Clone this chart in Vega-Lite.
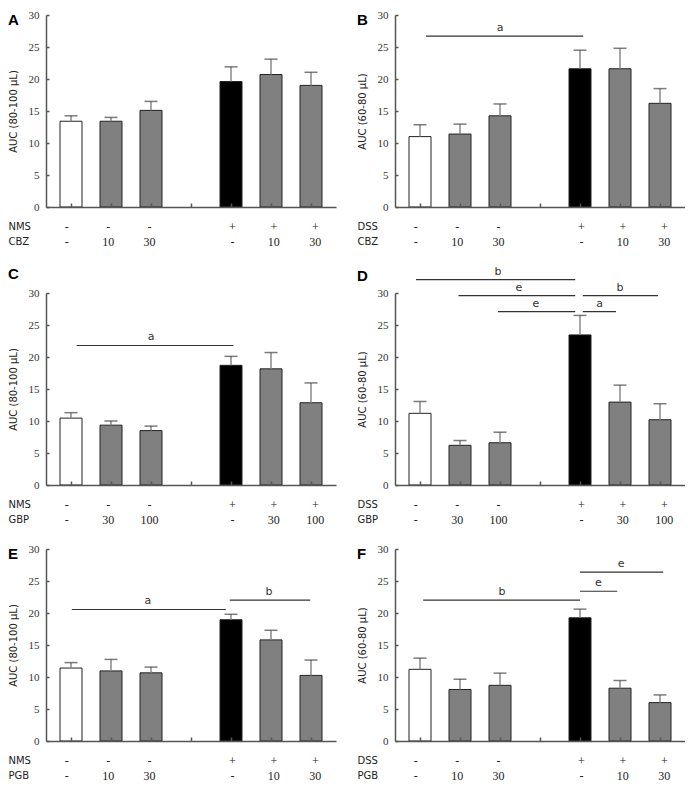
{
  "$schema": "https://vega.github.io/schema/vega-lite/v6.json",
  "padding": {"left": 8, "top": 9, "right": 0, "bottom": 0},
  "datasets": {
    "bars": [
      {"p": "A", "slot": 1, "kind": "vehicle", "v": 13.4, "hi": 14.25},
      {"p": "A", "slot": 2, "kind": "drug", "v": 13.4, "hi": 14.0},
      {"p": "A", "slot": 3, "kind": "drug", "v": 15.1, "hi": 16.5},
      {"p": "A", "slot": 5, "kind": "model", "v": 19.6, "hi": 21.9},
      {"p": "A", "slot": 6, "kind": "drug", "v": 20.7, "hi": 23.1},
      {"p": "A", "slot": 7, "kind": "drug", "v": 19.0, "hi": 21.05},
      {"p": "B", "slot": 1, "kind": "vehicle", "v": 11.0, "hi": 12.85},
      {"p": "B", "slot": 2, "kind": "drug", "v": 11.4, "hi": 12.95},
      {"p": "B", "slot": 3, "kind": "drug", "v": 14.25, "hi": 16.1},
      {"p": "B", "slot": 5, "kind": "model", "v": 21.6, "hi": 24.5},
      {"p": "B", "slot": 6, "kind": "drug", "v": 21.6, "hi": 24.8},
      {"p": "B", "slot": 7, "kind": "drug", "v": 16.2, "hi": 18.5},
      {"p": "C", "slot": 1, "kind": "vehicle", "v": 10.45, "hi": 11.3},
      {"p": "C", "slot": 2, "kind": "drug", "v": 9.35, "hi": 10.0},
      {"p": "C", "slot": 3, "kind": "drug", "v": 8.5, "hi": 9.2},
      {"p": "C", "slot": 5, "kind": "model", "v": 18.7, "hi": 20.1},
      {"p": "C", "slot": 6, "kind": "drug", "v": 18.15, "hi": 20.7},
      {"p": "C", "slot": 7, "kind": "drug", "v": 12.85, "hi": 15.95},
      {"p": "D", "slot": 1, "kind": "vehicle", "v": 11.2, "hi": 13.05},
      {"p": "D", "slot": 2, "kind": "drug", "v": 6.2, "hi": 6.95},
      {"p": "D", "slot": 3, "kind": "drug", "v": 6.6, "hi": 8.25},
      {"p": "D", "slot": 5, "kind": "model", "v": 23.45, "hi": 26.5},
      {"p": "D", "slot": 6, "kind": "drug", "v": 12.95, "hi": 15.6},
      {"p": "D", "slot": 7, "kind": "drug", "v": 10.2, "hi": 12.7},
      {"p": "E", "slot": 1, "kind": "vehicle", "v": 11.4, "hi": 12.25},
      {"p": "E", "slot": 2, "kind": "drug", "v": 10.95, "hi": 12.75},
      {"p": "E", "slot": 3, "kind": "drug", "v": 10.65, "hi": 11.55},
      {"p": "E", "slot": 5, "kind": "model", "v": 18.95, "hi": 19.8},
      {"p": "E", "slot": 6, "kind": "drug", "v": 15.8, "hi": 17.3},
      {"p": "E", "slot": 7, "kind": "drug", "v": 10.25, "hi": 12.65},
      {"p": "F", "slot": 1, "kind": "vehicle", "v": 11.2, "hi": 12.95},
      {"p": "F", "slot": 2, "kind": "drug", "v": 8.05, "hi": 9.65},
      {"p": "F", "slot": 3, "kind": "drug", "v": 8.7, "hi": 10.6},
      {"p": "F", "slot": 5, "kind": "model", "v": 19.25, "hi": 20.6},
      {"p": "F", "slot": 6, "kind": "drug", "v": 8.25, "hi": 9.45},
      {"p": "F", "slot": 7, "kind": "drug", "v": 6.0, "hi": 7.2}
    ],
    "sig": [
      {"p": "B", "x1": 1.15, "x2": 5.08, "mid": 3.0, "y": 26.7, "lab": "a"},
      {"p": "C", "x1": 1.14, "x2": 5.06, "mid": 3.0, "y": 21.8, "lab": "a"},
      {"p": "D", "x1": 0.9, "x2": 4.88, "mid": 2.95, "y": 32.1, "lab": "b"},
      {"p": "D", "x1": 1.96, "x2": 4.88, "mid": 3.47, "y": 29.6, "lab": "e"},
      {"p": "D", "x1": 2.95, "x2": 4.88, "mid": 3.9, "y": 27.1, "lab": "e"},
      {"p": "D", "x1": 5.07, "x2": 6.95, "mid": 6.0, "y": 29.6, "lab": "b"},
      {"p": "D", "x1": 5.07, "x2": 5.9, "mid": 5.49, "y": 27.1, "lab": "a"},
      {"p": "E", "x1": 1.02, "x2": 4.87, "mid": 2.92, "y": 20.55, "lab": "a"},
      {"p": "E", "x1": 4.97, "x2": 6.98, "mid": 5.95, "y": 22.0, "lab": "b"},
      {"p": "F", "x1": 1.08, "x2": 5.0, "mid": 3.05, "y": 22.0, "lab": "b"},
      {"p": "F", "x1": 5.0, "x2": 5.93, "mid": 5.46, "y": 23.4, "lab": "e"},
      {"p": "F", "x1": 5.0, "x2": 7.08, "mid": 6.03, "y": 26.4, "lab": "e"}
    ],
    "tab": [
      {"p": "A", "r": 1, "row": "NMS", "slot": 1, "t": "-"},
      {"p": "A", "r": 1, "row": "NMS", "slot": 2, "t": "-"},
      {"p": "A", "r": 1, "row": "NMS", "slot": 3, "t": "-"},
      {"p": "A", "r": 1, "row": "NMS", "slot": 5, "t": "+"},
      {"p": "A", "r": 1, "row": "NMS", "slot": 6, "t": "+"},
      {"p": "A", "r": 1, "row": "NMS", "slot": 7, "t": "+"},
      {"p": "A", "r": 2, "row": "CBZ", "slot": 1, "t": "-"},
      {"p": "A", "r": 2, "row": "CBZ", "slot": 2, "t": "10"},
      {"p": "A", "r": 2, "row": "CBZ", "slot": 3, "t": "30"},
      {"p": "A", "r": 2, "row": "CBZ", "slot": 5, "t": "-"},
      {"p": "A", "r": 2, "row": "CBZ", "slot": 6, "t": "10"},
      {"p": "A", "r": 2, "row": "CBZ", "slot": 7, "t": "30"},
      {"p": "B", "r": 1, "row": "DSS", "slot": 1, "t": "-"},
      {"p": "B", "r": 1, "row": "DSS", "slot": 2, "t": "-"},
      {"p": "B", "r": 1, "row": "DSS", "slot": 3, "t": "-"},
      {"p": "B", "r": 1, "row": "DSS", "slot": 5, "t": "+"},
      {"p": "B", "r": 1, "row": "DSS", "slot": 6, "t": "+"},
      {"p": "B", "r": 1, "row": "DSS", "slot": 7, "t": "+"},
      {"p": "B", "r": 2, "row": "CBZ", "slot": 1, "t": "-"},
      {"p": "B", "r": 2, "row": "CBZ", "slot": 2, "t": "10"},
      {"p": "B", "r": 2, "row": "CBZ", "slot": 3, "t": "30"},
      {"p": "B", "r": 2, "row": "CBZ", "slot": 5, "t": "-"},
      {"p": "B", "r": 2, "row": "CBZ", "slot": 6, "t": "10"},
      {"p": "B", "r": 2, "row": "CBZ", "slot": 7, "t": "30"},
      {"p": "C", "r": 1, "row": "NMS", "slot": 1, "t": "-"},
      {"p": "C", "r": 1, "row": "NMS", "slot": 2, "t": "-"},
      {"p": "C", "r": 1, "row": "NMS", "slot": 3, "t": "-"},
      {"p": "C", "r": 1, "row": "NMS", "slot": 5, "t": "+"},
      {"p": "C", "r": 1, "row": "NMS", "slot": 6, "t": "+"},
      {"p": "C", "r": 1, "row": "NMS", "slot": 7, "t": "+"},
      {"p": "C", "r": 2, "row": "GBP", "slot": 1, "t": "-"},
      {"p": "C", "r": 2, "row": "GBP", "slot": 2, "t": "30"},
      {"p": "C", "r": 2, "row": "GBP", "slot": 3, "t": "100"},
      {"p": "C", "r": 2, "row": "GBP", "slot": 5, "t": "-"},
      {"p": "C", "r": 2, "row": "GBP", "slot": 6, "t": "30"},
      {"p": "C", "r": 2, "row": "GBP", "slot": 7, "t": "100"},
      {"p": "D", "r": 1, "row": "DSS", "slot": 1, "t": "-"},
      {"p": "D", "r": 1, "row": "DSS", "slot": 2, "t": "-"},
      {"p": "D", "r": 1, "row": "DSS", "slot": 3, "t": "-"},
      {"p": "D", "r": 1, "row": "DSS", "slot": 5, "t": "+"},
      {"p": "D", "r": 1, "row": "DSS", "slot": 6, "t": "+"},
      {"p": "D", "r": 1, "row": "DSS", "slot": 7, "t": "+"},
      {"p": "D", "r": 2, "row": "GBP", "slot": 1, "t": "-"},
      {"p": "D", "r": 2, "row": "GBP", "slot": 2, "t": "30"},
      {"p": "D", "r": 2, "row": "GBP", "slot": 3, "t": "100"},
      {"p": "D", "r": 2, "row": "GBP", "slot": 5, "t": "-"},
      {"p": "D", "r": 2, "row": "GBP", "slot": 6, "t": "30"},
      {"p": "D", "r": 2, "row": "GBP", "slot": 7, "t": "100"},
      {"p": "E", "r": 1, "row": "NMS", "slot": 1, "t": "-"},
      {"p": "E", "r": 1, "row": "NMS", "slot": 2, "t": "-"},
      {"p": "E", "r": 1, "row": "NMS", "slot": 3, "t": "-"},
      {"p": "E", "r": 1, "row": "NMS", "slot": 5, "t": "+"},
      {"p": "E", "r": 1, "row": "NMS", "slot": 6, "t": "+"},
      {"p": "E", "r": 1, "row": "NMS", "slot": 7, "t": "+"},
      {"p": "E", "r": 2, "row": "PGB", "slot": 1, "t": "-"},
      {"p": "E", "r": 2, "row": "PGB", "slot": 2, "t": "10"},
      {"p": "E", "r": 2, "row": "PGB", "slot": 3, "t": "30"},
      {"p": "E", "r": 2, "row": "PGB", "slot": 5, "t": "-"},
      {"p": "E", "r": 2, "row": "PGB", "slot": 6, "t": "10"},
      {"p": "E", "r": 2, "row": "PGB", "slot": 7, "t": "30"},
      {"p": "F", "r": 1, "row": "DSS", "slot": 1, "t": "-"},
      {"p": "F", "r": 1, "row": "DSS", "slot": 2, "t": "-"},
      {"p": "F", "r": 1, "row": "DSS", "slot": 3, "t": "-"},
      {"p": "F", "r": 1, "row": "DSS", "slot": 5, "t": "+"},
      {"p": "F", "r": 1, "row": "DSS", "slot": 6, "t": "+"},
      {"p": "F", "r": 1, "row": "DSS", "slot": 7, "t": "+"},
      {"p": "F", "r": 2, "row": "PGB", "slot": 1, "t": "-"},
      {"p": "F", "r": 2, "row": "PGB", "slot": 2, "t": "10"},
      {"p": "F", "r": 2, "row": "PGB", "slot": 3, "t": "30"},
      {"p": "F", "r": 2, "row": "PGB", "slot": 5, "t": "-"},
      {"p": "F", "r": 2, "row": "PGB", "slot": 6, "t": "10"},
      {"p": "F", "r": 2, "row": "PGB", "slot": 7, "t": "30"}
    ]
  },
  "spacing": 16,
  "align": "none",
  "vconcat": [
    {"hconcat": [
      {"spacing": 7, "vconcat": [
        {"width": 290, "height": 192,
         "title": {"text": "A", "offset": -19},
         "layer": [
          {"data": {"name": "bars"}, "transform": [{"filter": "datum.p === 'A'"}],
           "mark": {"type": "bar", "width": 22, "stroke": "#222", "strokeWidth": 1},
           "encoding": {
             "x": {"field": "slot", "type": "quantitative", "scale": {"domain": [0.5, 7.5], "nice": false, "zero": false}, "axis": {"values": [1, 2, 3, 4, 5, 6, 7], "labels": false, "tickSize": -4, "title": null, "zindex": 1}},
             "y": {"field": "v", "type": "quantitative", "scale": {"domain": [0, 30], "nice": false}, "axis": {"values": [0, 5, 10, 15, 20, 25, 30], "tickCount": 7, "labelOverlap": false, "labelBound": false, "title": "AUC (80-100 μL)"}},
             "fill": {"field": "kind", "type": "nominal", "scale": {"domain": ["vehicle", "drug", "model"], "range": ["#ffffff", "#808080", "#000000"]}, "legend": null}}},
          {"data": {"name": "bars"}, "transform": [{"filter": "datum.p === 'A'"}],
           "mark": {"type": "rule", "color": "#888", "strokeWidth": 1.5},
           "encoding": {"x": {"field": "slot", "type": "quantitative"}, "y": {"field": "v", "type": "quantitative"}, "y2": {"field": "hi"}}},
          {"data": {"name": "bars"}, "transform": [{"filter": "datum.p === 'A'"}],
           "mark": {"type": "tick", "orient": "horizontal", "color": "#444", "size": 13, "thickness": 1.5},
           "encoding": {"x": {"field": "slot", "type": "quantitative"}, "y": {"field": "hi", "type": "quantitative"}}}
         ]},
        {"width": 290, "height": 30,
         "data": {"name": "tab"}, "transform": [{"filter": "datum.p === 'A'"}],
         "mark": {"type": "text", "font": "Liberation Serif", "fontSize": 12, "color": "#222"},
         "encoding": {
           "x": {"field": "slot", "type": "quantitative", "scale": {"domain": [0.5, 7.5], "nice": false, "zero": false}, "axis": null},
           "y": {"field": "row", "type": "nominal", "sort": {"field": "r", "op": "min"}, "scale": {"paddingInner": 0, "paddingOuter": 0}, "axis": {"title": null, "domain": false, "ticks": false, "labelAlign": "left", "labelPadding": 38, "labelFont": "DejaVu Sans", "labelFontSize": 10, "labelColor": "#222"}},
           "text": {"field": "t"}}}
      ]},
      {"spacing": 7, "vconcat": [
        {"width": 290, "height": 192,
         "title": {"text": "B", "offset": -19},
         "layer": [
          {"data": {"name": "bars"}, "transform": [{"filter": "datum.p === 'B'"}],
           "mark": {"type": "bar", "width": 22, "stroke": "#222", "strokeWidth": 1},
           "encoding": {
             "x": {"field": "slot", "type": "quantitative", "scale": {"domain": [0.5, 7.5], "nice": false, "zero": false}, "axis": {"values": [1, 2, 3, 4, 5, 6, 7], "labels": false, "tickSize": -4, "title": null, "zindex": 1}},
             "y": {"field": "v", "type": "quantitative", "scale": {"domain": [0, 30], "nice": false}, "axis": {"values": [0, 5, 10, 15, 20, 25, 30], "tickCount": 7, "labelOverlap": false, "labelBound": false, "title": "AUC (60-80 μL)"}},
             "fill": {"field": "kind", "type": "nominal", "scale": {"domain": ["vehicle", "drug", "model"], "range": ["#ffffff", "#808080", "#000000"]}, "legend": null}}},
          {"data": {"name": "bars"}, "transform": [{"filter": "datum.p === 'B'"}],
           "mark": {"type": "rule", "color": "#888", "strokeWidth": 1.5},
           "encoding": {"x": {"field": "slot", "type": "quantitative"}, "y": {"field": "v", "type": "quantitative"}, "y2": {"field": "hi"}}},
          {"data": {"name": "bars"}, "transform": [{"filter": "datum.p === 'B'"}],
           "mark": {"type": "tick", "orient": "horizontal", "color": "#444", "size": 13, "thickness": 1.5},
           "encoding": {"x": {"field": "slot", "type": "quantitative"}, "y": {"field": "hi", "type": "quantitative"}}},
          {"data": {"name": "sig"}, "transform": [{"filter": "datum.p === 'B'"}],
           "mark": {"type": "rule", "color": "#333", "strokeWidth": 1.2},
           "encoding": {"x": {"field": "x1", "type": "quantitative"}, "x2": {"field": "x2"}, "y": {"field": "y", "type": "quantitative"}}},
          {"data": {"name": "sig"}, "transform": [{"filter": "datum.p === 'B'"}],
           "mark": {"type": "text", "dy": -8, "fontSize": 11, "color": "#333"},
           "encoding": {"x": {"field": "mid", "type": "quantitative"}, "y": {"field": "y", "type": "quantitative"}, "text": {"field": "lab"}}}
         ]},
        {"width": 290, "height": 30,
         "data": {"name": "tab"}, "transform": [{"filter": "datum.p === 'B'"}],
         "mark": {"type": "text", "font": "Liberation Serif", "fontSize": 12, "color": "#222"},
         "encoding": {
           "x": {"field": "slot", "type": "quantitative", "scale": {"domain": [0.5, 7.5], "nice": false, "zero": false}, "axis": null},
           "y": {"field": "row", "type": "nominal", "sort": {"field": "r", "op": "min"}, "scale": {"paddingInner": 0, "paddingOuter": 0}, "axis": {"title": null, "domain": false, "ticks": false, "labelAlign": "left", "labelPadding": 38, "labelFont": "DejaVu Sans", "labelFontSize": 10, "labelColor": "#222"}},
           "text": {"field": "t"}}}
      ]}
    ], "spacing": 21},
    {"hconcat": [
      {"spacing": 7, "vconcat": [
        {"width": 290, "height": 192,
         "title": {"text": "C", "offset": 5},
         "layer": [
          {"data": {"name": "bars"}, "transform": [{"filter": "datum.p === 'C'"}],
           "mark": {"type": "bar", "width": 22, "stroke": "#222", "strokeWidth": 1},
           "encoding": {
             "x": {"field": "slot", "type": "quantitative", "scale": {"domain": [0.5, 7.5], "nice": false, "zero": false}, "axis": {"values": [1, 2, 3, 4, 5, 6, 7], "labels": false, "tickSize": -4, "title": null, "zindex": 1}},
             "y": {"field": "v", "type": "quantitative", "scale": {"domain": [0, 30], "nice": false}, "axis": {"values": [0, 5, 10, 15, 20, 25, 30], "tickCount": 7, "labelOverlap": false, "labelBound": false, "title": "AUC (80-100 μL)"}},
             "fill": {"field": "kind", "type": "nominal", "scale": {"domain": ["vehicle", "drug", "model"], "range": ["#ffffff", "#808080", "#000000"]}, "legend": null}}},
          {"data": {"name": "bars"}, "transform": [{"filter": "datum.p === 'C'"}],
           "mark": {"type": "rule", "color": "#888", "strokeWidth": 1.5},
           "encoding": {"x": {"field": "slot", "type": "quantitative"}, "y": {"field": "v", "type": "quantitative"}, "y2": {"field": "hi"}}},
          {"data": {"name": "bars"}, "transform": [{"filter": "datum.p === 'C'"}],
           "mark": {"type": "tick", "orient": "horizontal", "color": "#444", "size": 13, "thickness": 1.5},
           "encoding": {"x": {"field": "slot", "type": "quantitative"}, "y": {"field": "hi", "type": "quantitative"}}},
          {"data": {"name": "sig"}, "transform": [{"filter": "datum.p === 'C'"}],
           "mark": {"type": "rule", "color": "#333", "strokeWidth": 1.2},
           "encoding": {"x": {"field": "x1", "type": "quantitative"}, "x2": {"field": "x2"}, "y": {"field": "y", "type": "quantitative"}}},
          {"data": {"name": "sig"}, "transform": [{"filter": "datum.p === 'C'"}],
           "mark": {"type": "text", "dy": -8, "fontSize": 11, "color": "#333"},
           "encoding": {"x": {"field": "mid", "type": "quantitative"}, "y": {"field": "y", "type": "quantitative"}, "text": {"field": "lab"}}}
         ]},
        {"width": 290, "height": 30,
         "data": {"name": "tab"}, "transform": [{"filter": "datum.p === 'C'"}],
         "mark": {"type": "text", "font": "Liberation Serif", "fontSize": 12, "color": "#222"},
         "encoding": {
           "x": {"field": "slot", "type": "quantitative", "scale": {"domain": [0.5, 7.5], "nice": false, "zero": false}, "axis": null},
           "y": {"field": "row", "type": "nominal", "sort": {"field": "r", "op": "min"}, "scale": {"paddingInner": 0, "paddingOuter": 0}, "axis": {"title": null, "domain": false, "ticks": false, "labelAlign": "left", "labelPadding": 38, "labelFont": "DejaVu Sans", "labelFontSize": 10, "labelColor": "#222"}},
           "text": {"field": "t"}}}
      ]},
      {"spacing": 7, "vconcat": [
        {"width": 290, "height": 192,
         "title": {"text": "D", "offset": -18},
         "layer": [
          {"data": {"name": "bars"}, "transform": [{"filter": "datum.p === 'D'"}],
           "mark": {"type": "bar", "width": 22, "stroke": "#222", "strokeWidth": 1},
           "encoding": {
             "x": {"field": "slot", "type": "quantitative", "scale": {"domain": [0.5, 7.5], "nice": false, "zero": false}, "axis": {"values": [1, 2, 3, 4, 5, 6, 7], "labels": false, "tickSize": -4, "title": null, "zindex": 1}},
             "y": {"field": "v", "type": "quantitative", "scale": {"domain": [0, 30], "nice": false}, "axis": {"values": [0, 5, 10, 15, 20, 25, 30], "tickCount": 7, "labelOverlap": false, "labelBound": false, "title": "AUC (60-80 μL)"}},
             "fill": {"field": "kind", "type": "nominal", "scale": {"domain": ["vehicle", "drug", "model"], "range": ["#ffffff", "#808080", "#000000"]}, "legend": null}}},
          {"data": {"name": "bars"}, "transform": [{"filter": "datum.p === 'D'"}],
           "mark": {"type": "rule", "color": "#888", "strokeWidth": 1.5},
           "encoding": {"x": {"field": "slot", "type": "quantitative"}, "y": {"field": "v", "type": "quantitative"}, "y2": {"field": "hi"}}},
          {"data": {"name": "bars"}, "transform": [{"filter": "datum.p === 'D'"}],
           "mark": {"type": "tick", "orient": "horizontal", "color": "#444", "size": 13, "thickness": 1.5},
           "encoding": {"x": {"field": "slot", "type": "quantitative"}, "y": {"field": "hi", "type": "quantitative"}}},
          {"data": {"name": "sig"}, "transform": [{"filter": "datum.p === 'D'"}],
           "mark": {"type": "rule", "color": "#333", "strokeWidth": 1.2},
           "encoding": {"x": {"field": "x1", "type": "quantitative"}, "x2": {"field": "x2"}, "y": {"field": "y", "type": "quantitative"}}},
          {"data": {"name": "sig"}, "transform": [{"filter": "datum.p === 'D'"}],
           "mark": {"type": "text", "dy": -8, "fontSize": 11, "color": "#333"},
           "encoding": {"x": {"field": "mid", "type": "quantitative"}, "y": {"field": "y", "type": "quantitative"}, "text": {"field": "lab"}}}
         ]},
        {"width": 290, "height": 30,
         "data": {"name": "tab"}, "transform": [{"filter": "datum.p === 'D'"}],
         "mark": {"type": "text", "font": "Liberation Serif", "fontSize": 12, "color": "#222"},
         "encoding": {
           "x": {"field": "slot", "type": "quantitative", "scale": {"domain": [0.5, 7.5], "nice": false, "zero": false}, "axis": null},
           "y": {"field": "row", "type": "nominal", "sort": {"field": "r", "op": "min"}, "scale": {"paddingInner": 0, "paddingOuter": 0}, "axis": {"title": null, "domain": false, "ticks": false, "labelAlign": "left", "labelPadding": 38, "labelFont": "DejaVu Sans", "labelFontSize": 10, "labelColor": "#222"}},
           "text": {"field": "t"}}}
      ]}
    ], "spacing": 21},
    {"hconcat": [
      {"spacing": 7, "vconcat": [
        {"width": 290, "height": 192,
         "title": {"text": "E", "offset": -19},
         "layer": [
          {"data": {"name": "bars"}, "transform": [{"filter": "datum.p === 'E'"}],
           "mark": {"type": "bar", "width": 22, "stroke": "#222", "strokeWidth": 1},
           "encoding": {
             "x": {"field": "slot", "type": "quantitative", "scale": {"domain": [0.5, 7.5], "nice": false, "zero": false}, "axis": {"values": [1, 2, 3, 4, 5, 6, 7], "labels": false, "tickSize": -4, "title": null, "zindex": 1}},
             "y": {"field": "v", "type": "quantitative", "scale": {"domain": [0, 30], "nice": false}, "axis": {"values": [0, 5, 10, 15, 20, 25, 30], "tickCount": 7, "labelOverlap": false, "labelBound": false, "title": "AUC (80-100 μL)"}},
             "fill": {"field": "kind", "type": "nominal", "scale": {"domain": ["vehicle", "drug", "model"], "range": ["#ffffff", "#808080", "#000000"]}, "legend": null}}},
          {"data": {"name": "bars"}, "transform": [{"filter": "datum.p === 'E'"}],
           "mark": {"type": "rule", "color": "#888", "strokeWidth": 1.5},
           "encoding": {"x": {"field": "slot", "type": "quantitative"}, "y": {"field": "v", "type": "quantitative"}, "y2": {"field": "hi"}}},
          {"data": {"name": "bars"}, "transform": [{"filter": "datum.p === 'E'"}],
           "mark": {"type": "tick", "orient": "horizontal", "color": "#444", "size": 13, "thickness": 1.5},
           "encoding": {"x": {"field": "slot", "type": "quantitative"}, "y": {"field": "hi", "type": "quantitative"}}},
          {"data": {"name": "sig"}, "transform": [{"filter": "datum.p === 'E'"}],
           "mark": {"type": "rule", "color": "#333", "strokeWidth": 1.2},
           "encoding": {"x": {"field": "x1", "type": "quantitative"}, "x2": {"field": "x2"}, "y": {"field": "y", "type": "quantitative"}}},
          {"data": {"name": "sig"}, "transform": [{"filter": "datum.p === 'E'"}],
           "mark": {"type": "text", "dy": -8, "fontSize": 11, "color": "#333"},
           "encoding": {"x": {"field": "mid", "type": "quantitative"}, "y": {"field": "y", "type": "quantitative"}, "text": {"field": "lab"}}}
         ]},
        {"width": 290, "height": 30,
         "data": {"name": "tab"}, "transform": [{"filter": "datum.p === 'E'"}],
         "mark": {"type": "text", "font": "Liberation Serif", "fontSize": 12, "color": "#222"},
         "encoding": {
           "x": {"field": "slot", "type": "quantitative", "scale": {"domain": [0.5, 7.5], "nice": false, "zero": false}, "axis": null},
           "y": {"field": "row", "type": "nominal", "sort": {"field": "r", "op": "min"}, "scale": {"paddingInner": 0, "paddingOuter": 0}, "axis": {"title": null, "domain": false, "ticks": false, "labelAlign": "left", "labelPadding": 38, "labelFont": "DejaVu Sans", "labelFontSize": 10, "labelColor": "#222"}},
           "text": {"field": "t"}}}
      ]},
      {"spacing": 7, "vconcat": [
        {"width": 290, "height": 192,
         "title": {"text": "F", "offset": -19},
         "layer": [
          {"data": {"name": "bars"}, "transform": [{"filter": "datum.p === 'F'"}],
           "mark": {"type": "bar", "width": 22, "stroke": "#222", "strokeWidth": 1},
           "encoding": {
             "x": {"field": "slot", "type": "quantitative", "scale": {"domain": [0.5, 7.5], "nice": false, "zero": false}, "axis": {"values": [1, 2, 3, 4, 5, 6, 7], "labels": false, "tickSize": -4, "title": null, "zindex": 1}},
             "y": {"field": "v", "type": "quantitative", "scale": {"domain": [0, 30], "nice": false}, "axis": {"values": [0, 5, 10, 15, 20, 25, 30], "tickCount": 7, "labelOverlap": false, "labelBound": false, "title": "AUC (60-80 μL)"}},
             "fill": {"field": "kind", "type": "nominal", "scale": {"domain": ["vehicle", "drug", "model"], "range": ["#ffffff", "#808080", "#000000"]}, "legend": null}}},
          {"data": {"name": "bars"}, "transform": [{"filter": "datum.p === 'F'"}],
           "mark": {"type": "rule", "color": "#888", "strokeWidth": 1.5},
           "encoding": {"x": {"field": "slot", "type": "quantitative"}, "y": {"field": "v", "type": "quantitative"}, "y2": {"field": "hi"}}},
          {"data": {"name": "bars"}, "transform": [{"filter": "datum.p === 'F'"}],
           "mark": {"type": "tick", "orient": "horizontal", "color": "#444", "size": 13, "thickness": 1.5},
           "encoding": {"x": {"field": "slot", "type": "quantitative"}, "y": {"field": "hi", "type": "quantitative"}}},
          {"data": {"name": "sig"}, "transform": [{"filter": "datum.p === 'F'"}],
           "mark": {"type": "rule", "color": "#333", "strokeWidth": 1.2},
           "encoding": {"x": {"field": "x1", "type": "quantitative"}, "x2": {"field": "x2"}, "y": {"field": "y", "type": "quantitative"}}},
          {"data": {"name": "sig"}, "transform": [{"filter": "datum.p === 'F'"}],
           "mark": {"type": "text", "dy": -8, "fontSize": 11, "color": "#333"},
           "encoding": {"x": {"field": "mid", "type": "quantitative"}, "y": {"field": "y", "type": "quantitative"}, "text": {"field": "lab"}}}
         ]},
        {"width": 290, "height": 30,
         "data": {"name": "tab"}, "transform": [{"filter": "datum.p === 'F'"}],
         "mark": {"type": "text", "font": "Liberation Serif", "fontSize": 12, "color": "#222"},
         "encoding": {
           "x": {"field": "slot", "type": "quantitative", "scale": {"domain": [0.5, 7.5], "nice": false, "zero": false}, "axis": null},
           "y": {"field": "row", "type": "nominal", "sort": {"field": "r", "op": "min"}, "scale": {"paddingInner": 0, "paddingOuter": 0}, "axis": {"title": null, "domain": false, "ticks": false, "labelAlign": "left", "labelPadding": 38, "labelFont": "DejaVu Sans", "labelFontSize": 10, "labelColor": "#222"}},
           "text": {"field": "t"}}}
      ]}
    ], "spacing": 21}
  ],
  "config": {
    "view": {"stroke": null},
    "font": "DejaVu Sans",
    "title": {"anchor": "start", "frame": "bounds", "font": "Liberation Sans", "fontSize": 15, "fontWeight": "bold", "color": "#000"},
    "axis": {"grid": false, "domainColor": "#555", "domainWidth": 1.5, "tickColor": "#555", "tickWidth": 1.5},
    "axisY": {"labelFont": "Liberation Serif", "labelFontSize": 11, "labelColor": "#333", "labelFlush": false, "labelOverlap": false, "titleFont": "DejaVu Sans", "titleFontSize": 10, "titleFontWeight": "normal", "titleColor": "#222", "tickSize": -3, "labelPadding": 10, "titlePadding": 10}
  }
}
